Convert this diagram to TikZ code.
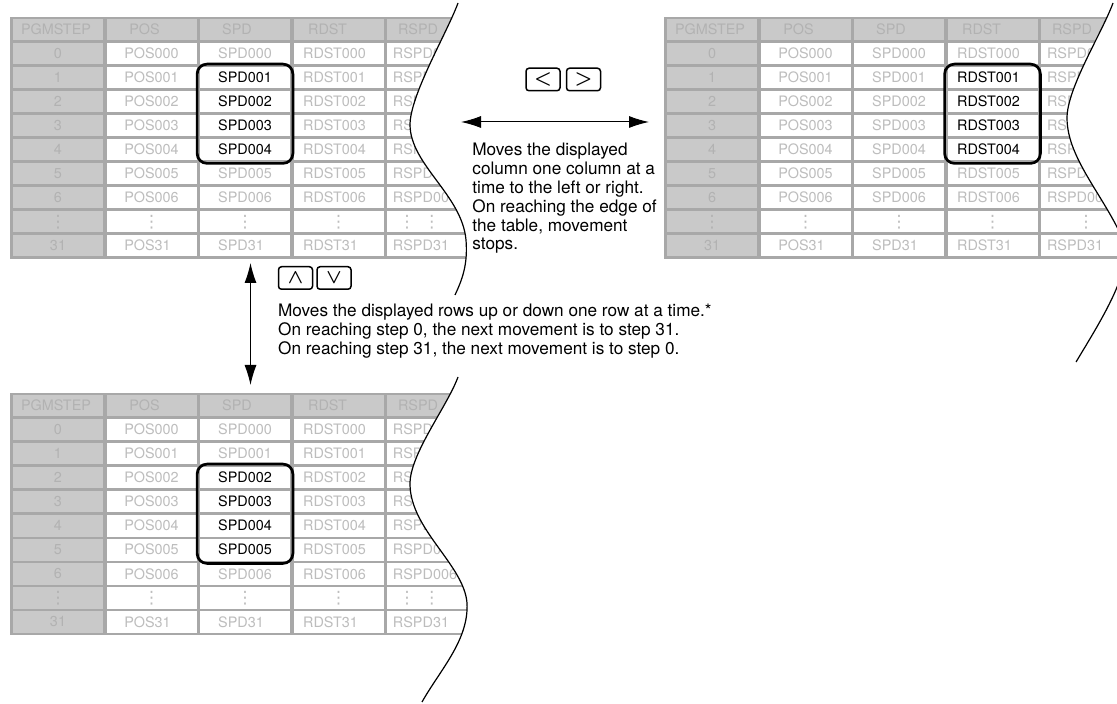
\documentclass[tikz,border=0pt]{standalone}
\usepackage{fontspec}
\setmainfont{TeX Gyre Heros}
\newfontfamily\dotsfont{DejaVu Sans}
\usetikzlibrary{arrows.meta,positioning,fit}

\definecolor{framegray}{HTML}{A8A8A8}
\definecolor{headgray}{HTML}{C9C9C9}
\definecolor{headtext}{HTML}{B2B2B2}
\definecolor{celltext}{HTML}{BDBDBD}

% column of dots for the skipped rows
\newcommand\coldots{{\dotsfont\fontsize{8.5}{8.5}\selectfont ⋮}}

% cut lines (pixel units, y going down)
\newcommand\cutA{(458,3) .. controls (447,33) and (410,95) .. (410,125) .. controls (410.5,165) and (462,195) .. (466,240) .. controls (468,265) and (462,280) .. (455,295)}
\newcommand\cutB{(1113,3) .. controls (1102,33) and (1067,88) .. (1067,118) .. controls (1067,160) and (1108,200) .. (1125,245) .. controls (1130,275) and (1100,322) .. (1076,362)}
\newcommand\cutC{(458,377) .. controls (447,407) and (409,455) .. (410,485) .. controls (411,530) and (464,565) .. (467,603) .. controls (469,640) and (440,670) .. (422,702)}

% program table: name, left, top, dots of the last column,
% shown column, first and last shown row
\newcommand\steptable[7]{%
  \fill[framegray] (#2,#3) rectangle ++(473,242);
  \foreach \c/\lab/\sh in {0/PGMSTEP/2,1/POS/7,2/SPD/8,3/RDST/11,4/RSPD/14}
    \node[headcell] (#1-h-\c) at ({#2+48+93.5*\c},{#3+12.75}) {\lab\kern\sh pt};
  \foreach \r in {0,...,6} {
    \node[headcell] (#1-\r-0) at ({#2+48},{#3+36.75+24*\r}) {\r};
    \foreach \c/\lab/\sh in {1/POS/0,2/SPD/0,3/RDST/4,4/RSPD/7} {
      \pgfmathtruncatemacro\shown{(\c==#5)&&(\r>=#6)&&(\r<=#7)}
      \ifnum\shown=1 \def\tcol{black}\else\def\tcol{celltext}\fi
      \node[cell, text=\tcol] (#1-\r-\c) at ({#2+48+93.5*\c},{#3+36.75+24*\r}) {\lab00\r\kern\sh pt};
    }
  }
  \node[headcell] (#1-d-0) at ({#2+48},{#3+204.75}) {\coldots};
  \foreach \c in {1,2,3}
    \node[cell] (#1-d-\c) at ({#2+48+93.5*\c},{#3+204.75}) {\coldots};
  \node[cell] (#1-d-4) at ({#2+422},{#3+204.75}) {#4};
  \node[headcell] (#1-e-0) at ({#2+48},{#3+228.75}) {31};
  \foreach \c/\lab/\sh in {1/POS/0,2/SPD/0,3/RDST/4,4/RSPD/7}
    \node[cell] (#1-e-\c) at ({#2+48+93.5*\c},{#3+228.75}) {\rlap{\lab31}\phantom{\lab000}\kern\sh pt};
}

\begin{document}
\begin{tikzpicture}[x=0.5pt, y=-0.5pt,
  cell/.style={minimum width=45pt, minimum height=10.75pt, inner sep=0pt, fill=white, text=celltext, font=\fontsize{7.2}{8}\selectfont},
  headcell/.style={cell, fill=headgray, text=headtext},
  pick/.style={draw, line width=1.35pt, rounded corners=5pt, inner sep=1.25pt},
  key/.style={draw, line width=0.75pt, rounded corners=1.5pt, minimum width=17pt, minimum height=11.25pt, inner sep=0pt, font=\fontsize{10}{10}\selectfont\boldmath},
  dblarrow/.style={{Latex[length=10pt,width=6pt]}-{Latex[length=10pt,width=6pt]}, line width=0.5pt},
  note/.style={align=left, inner sep=0pt, font=\fontsize{8.6}{9.4}\selectfont},
  cutline/.style={line width=0.6pt}
]
  \useasboundingbox (0,0) rectangle (1117,704);
  \clip (0,0) rectangle (1117,704);

  % tables, each cut off by its wavy line
  \begin{scope}
    \clip \cutA -- (0,295) -- (0,3) -- cycle;
    \steptable{A}{10}{17}{\llap{\coldots\hspace{4pt}}\coldots}{2}{1}{4}
  \end{scope}
  \draw[cutline] \cutA;

  \begin{scope}
    \clip \cutB -- (600,362) -- (600,3) -- cycle;
    \steptable{B}{664}{17}{\coldots}{3}{1}{4}
  \end{scope}
  \draw[cutline] \cutB;

  \begin{scope}
    \clip \cutC -- (0,702) -- (0,377) -- cycle;
    \steptable{C}{10}{393}{\llap{\coldots\hspace{4pt}}\coldots}{2}{2}{5}
  \end{scope}
  \draw[cutline] \cutC;

  % displayed cells
  \node[pick, fit=(A-1-2)(A-4-2)] (A-pick) {};
  \node[pick, fit=(B-1-3)(B-4-3)] (B-pick) {};
  \node[pick, fit=(C-2-2)(C-5-2)] (C-pick) {};

  % left / right keys
  \node[key] (kleft) at (543,79.5) {$<$};
  \node[key, right=2.5pt of kleft] (kright) {$>$};
  \coordinate (hl) at (461,122);
  \coordinate (hr) at (649,122);
  \draw[dblarrow] (hl) -- (hr);
  \node[note, anchor=north west] (colnote) at (472,143)
    {Moves the displayed\\column one column at a\\time to the left or right.\\On reaching the edge of\\the table, movement\\stops.};

  % up / down keys
  \coordinate (vt) at (250.5,263);
  \coordinate (vb) at (250.5,385);
  \draw[dblarrow] (vt) -- (vb);
  \node[key] (kup) at (295.5,278) {$\wedge$};
  \node[key, right=1.5pt of kup] (kdown) {$\vee$};
  \node[note, anchor=north west] (rownote) at ([yshift=-6.75pt]kup.south west)
    {Moves the displayed rows up or down one row at a time.*\\On reaching step 0, the next movement is to step 31.\\On reaching step 31, the next movement is to step 0.};
\end{tikzpicture}
\end{document}
